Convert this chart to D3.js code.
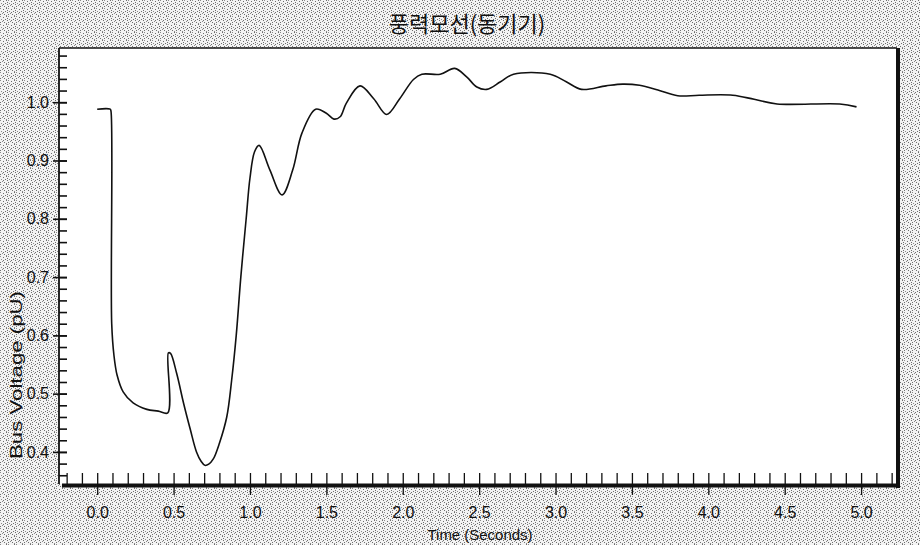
<!DOCTYPE html>
<html>
<head>
<meta charset="utf-8">
<script src="https://cdn.jsdelivr.net/npm/d3@7/dist/d3.min.js"></script>
<style>
  html, body { margin: 0; padding: 0; background: #fff; }
  svg { display: block; }
  text { fill: #111; }
</style>
</head>
<body>
<svg id="chart" width="920" height="545"></svg>
<script>
// ---- data ----
const chartTitle = "풍력모선(동기기)";
const xAxisTitle = "Time (Seconds)";
const yAxisTitle = "Bus Voltage (pU)";
const timeSec = [0.0, 0.085, 0.09, 0.095, 0.11, 0.13, 0.17, 0.235, 0.325, 0.40, 0.462, 0.466, 0.48, 0.52, 0.565, 0.61, 0.65, 0.68, 0.705, 0.73, 0.76, 0.80, 0.848, 0.88, 0.91, 0.94, 0.975, 1.00, 1.03, 1.06, 1.13, 1.21, 1.28, 1.34, 1.43, 1.50, 1.55, 1.59, 1.63, 1.72, 1.81, 1.895, 1.98, 2.07, 2.125, 2.245, 2.34, 2.42, 2.485, 2.55, 2.64, 2.725, 2.965, 3.07, 3.17, 3.33, 3.44, 3.55, 3.67, 3.80, 3.94, 4.16, 4.30, 4.45, 4.86, 4.97];
const busVoltage = [0.988, 0.988, 0.985, 0.62, 0.565, 0.532, 0.503, 0.484, 0.473, 0.470, 0.467, 0.570, 0.569, 0.535, 0.484, 0.438, 0.400, 0.384, 0.377, 0.379, 0.388, 0.415, 0.46, 0.523, 0.60, 0.70, 0.80, 0.87, 0.915, 0.926, 0.884, 0.841, 0.884, 0.947, 0.988, 0.981, 0.971, 0.975, 0.998, 1.028, 1.006, 0.979, 1.006, 1.039, 1.048, 1.048, 1.058, 1.043, 1.026, 1.022, 1.035, 1.048, 1.048, 1.035, 1.022, 1.028, 1.031, 1.029, 1.021, 1.011, 1.012, 1.012, 1.005, 0.997, 0.997, 0.992];
const xMajorTicks = [0.0, 0.5, 1.0, 1.5, 2.0, 2.5, 3.0, 3.5, 4.0, 4.5, 5.0];
const xMinorTicks = [-0.2, -0.1, 0.0, 0.1, 0.2, 0.3, 0.4, 0.5, 0.6, 0.7, 0.8, 0.9, 1.0, 1.1, 1.2, 1.3, 1.4, 1.5, 1.6, 1.7, 1.8, 1.9, 2.0, 2.1, 2.2, 2.3, 2.4, 2.5, 2.6, 2.7, 2.8, 2.9, 3.0, 3.1, 3.2, 3.3, 3.4, 3.5, 3.6, 3.7, 3.8, 3.9, 4.0, 4.1, 4.2, 4.3, 4.4, 4.5, 4.6, 4.7, 4.8, 4.9, 5.0, 5.1, 5.2];
const yMajorTicks = [0.4, 0.5, 0.6, 0.7, 0.8, 0.9, 1.0];
const yMinorTicks = [0.36, 0.38, 0.40, 0.42, 0.44, 0.46, 0.48, 0.50, 0.52, 0.54, 0.56, 0.58, 0.60, 0.62, 0.64, 0.66, 0.68, 0.70, 0.72, 0.74, 0.76, 0.78, 0.80, 0.82, 0.84, 0.86, 0.88, 0.90, 0.92, 0.94, 0.96, 0.98, 1.00, 1.02, 1.04, 1.06, 1.08];
const xDomain = [-0.25, 5.235];
const yDomain = [0.345, 1.093];

// ---- layout ----
const W = 920, H = 545;
const plot = { left: 59, right: 897, top: 48, bottom: 484 };
const svg = d3.select("#chart");
const labelFont = "'Liberation Sans Narrow', 'Liberation Sans', Arial, sans-serif";

// dithered gray background (scattered dot tile)
const defs = svg.append("defs");
const pat = defs.append("pattern").attr("id", "dither").attr("width", 8).attr("height", 8)
  .attr("patternUnits", "userSpaceOnUse");
pat.append("rect").attr("width", 8).attr("height", 8).attr("fill", "#f3f3f3");
const dots = [[0,0],[3,1],[6,0],[1,3],[5,3],[7,4],[2,5],[4,6],[0,6],[6,7],[3,4],[7,2]];
dots.forEach((d, i) => pat.append("rect").attr("x", d[0]).attr("y", d[1]).attr("width", 1).attr("height", 1)
  .attr("fill", i % 3 === 0 ? "#8a8a8a" : "#6e6e6e"));
svg.append("rect").attr("width", W).attr("height", H).attr("fill", "url(#dither)");

// plot area
svg.append("rect")
  .attr("x", plot.left).attr("y", plot.top)
  .attr("width", plot.right - plot.left).attr("height", plot.bottom - plot.top)
  .attr("fill", "#fff");

const x = d3.scaleLinear().domain(xDomain).range([plot.left, plot.right]);
const y = d3.scaleLinear().domain(yDomain).range([plot.bottom, plot.top]);

// frame: thin top & left, thick shadowed right & bottom
svg.append("line").attr("x1", plot.left).attr("x2", plot.right).attr("y1", plot.top).attr("y2", plot.top)
  .attr("stroke", "#111").attr("stroke-width", 1.5);
svg.append("line").attr("x1", plot.left).attr("x2", plot.left).attr("y1", plot.top).attr("y2", plot.bottom)
  .attr("stroke", "#111").attr("stroke-width", 1.8);
svg.append("line").attr("x1", plot.right + 1).attr("x2", plot.right + 1).attr("y1", plot.top).attr("y2", plot.bottom + 4)
  .attr("stroke", "#111").attr("stroke-width", 4);
svg.append("line").attr("x1", plot.left + 3).attr("x2", plot.right + 3).attr("y1", plot.bottom + 1.5).attr("y2", plot.bottom + 1.5)
  .attr("stroke", "#111").attr("stroke-width", 4);

// x axis: minor inward ticks
const gxMinor = svg.append("g").attr("transform", `translate(0,${plot.bottom})`)
  .call(d3.axisBottom(x).tickValues(xMinorTicks).tickSize(-11).tickFormat(""));
// x axis: major ticks crossing downward with labels
const gxMajor = svg.append("g").attr("transform", `translate(0,${plot.bottom})`)
  .call(d3.axisBottom(x).tickValues(xMajorTicks).tickSize(11).tickPadding(20).tickFormat(d3.format(".1f")));
[gxMinor, gxMajor].forEach(g => {
  g.select(".domain").remove();
  g.selectAll(".tick line").attr("stroke", "#111").attr("stroke-width", 1.3);
});
gxMajor.selectAll(".tick text").attr("font-family", labelFont).attr("font-size", 16).attr("fill", "#111").attr("dy", "0.2em");

// y axis: minor inward ticks
const gyMinor = svg.append("g").attr("transform", `translate(${plot.left},0)`)
  .call(d3.axisLeft(y).tickValues(yMinorTicks).tickSize(-8).tickFormat(""));
const gyMajor = svg.append("g").attr("transform", `translate(${plot.left},0)`)
  .call(d3.axisLeft(y).tickValues(yMajorTicks).tickSize(6).tickPadding(4).tickFormat(d3.format(".1f")));
[gyMinor, gyMajor].forEach(g => {
  g.select(".domain").remove();
  g.selectAll(".tick line").attr("stroke", "#111").attr("stroke-width", 1.6);
});
gyMajor.selectAll(".tick line").attr("x2", 8).attr("x1", -6);
gyMajor.selectAll(".tick text").attr("font-family", labelFont).attr("font-size", 16).attr("fill", "#111");

// curve
const pts = timeSec.map((t, i) => [t, busVoltage[i]]);
svg.append("path")
  .datum(pts)
  .attr("fill", "none")
  .attr("stroke", "#111")
  .attr("stroke-width", 1.6)
  .attr("stroke-linejoin", "round")
  .attr("d", d3.line().x(d => x(d[0])).y(d => y(d[1])).curve(d3.curveCatmullRom.alpha(0.5)));

// titles
svg.append("text").attr("x", 467).attr("y", 32).attr("text-anchor", "middle")
  .attr("font-family", "'Noto Sans CJK KR', sans-serif").attr("font-size", 22)
  .text(chartTitle);
svg.append("text").attr("x", 480).attr("y", 540).attr("text-anchor", "middle")
  .attr("font-family", labelFont).attr("font-size", 15)
  .attr("textLength", 105).attr("lengthAdjust", "spacingAndGlyphs")
  .text(xAxisTitle);
svg.append("text").attr("transform", "translate(22,375) rotate(-90)").attr("text-anchor", "middle")
  .attr("font-family", labelFont).attr("font-size", 17)
  .attr("textLength", 168).attr("lengthAdjust", "spacingAndGlyphs")
  .text(yAxisTitle);
</script>
</body>
</html>
